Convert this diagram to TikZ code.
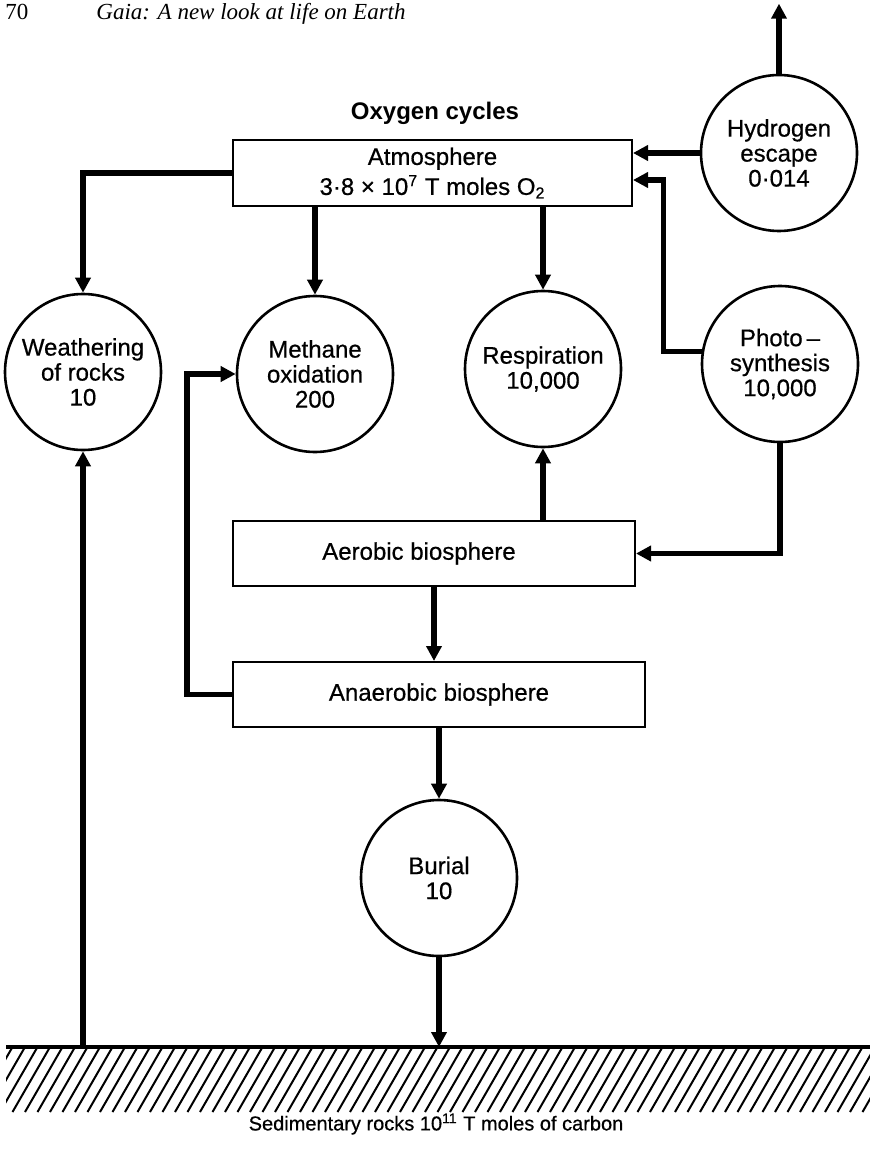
\documentclass[tikz,border=0pt]{standalone}
\usepackage{fontspec}
\newfontfamily\sansf{Liberation Sans}[FakeBold=0.6]
\newfontfamily\sansb{Liberation Sans}
\newfontfamily\serf{Liberation Serif}
\usetikzlibrary{arrows.meta,calc}
\begin{document}
\begin{tikzpicture}[x=0.5pt,y=-0.5pt,
  conn/.style={line width=2.75pt},
  arr/.style={conn,-{Triangle[length=7.5pt,width=7.5pt]}},
  circ/.style={circle,draw,line width=1.3pt,minimum size=78pt,inner sep=0pt,align=center,
    font=\sansf\fontsize{12}{12.5}\selectfont},
  box/.style={rectangle,draw,line width=1pt,inner sep=0pt,align=center,
    font=\sansf\fontsize{12}{15}\selectfont},
  hatchline/.style={line width=1pt},
  ttl/.style={font=\sansb\bfseries\fontsize{12}{14}\selectfont}
]
\useasboundingbox (0,0) rectangle (870,1150);

% header
\node[anchor=base west,inner sep=0pt,font=\serf\fontsize{11.5}{14}\selectfont] (pg) at (5,20) {70};
\node[anchor=base west,inner sep=0pt,font=\serf\itshape\fontsize{11.5}{14}\selectfont] (hd) at (96,20) {Gaia: A new look at life on Earth};

% title
\node[ttl] (title) at (435,113) {Oxygen cycles};

% boxes
\node[box,minimum width=199.5pt,minimum height=33pt] (atm) at (432.5,173)
  {Atmosphere\\3·8 × 10\textsuperscript{7} T moles O\textsubscript{2}};
\node[box,minimum width=201pt,minimum height=32.5pt] (aer) at (434,553.5)
  {Aerobic biosphere\hspace*{15pt}};
\node[box,minimum width=206pt,minimum height=32.5pt] (anaer) at (439,694.5)
  {Anaerobic biosphere};

% circles
\node[circ] (hydro) at (779,153) {Hydrogen\\escape\\0·014};
\node[circ] (weath) at (83,372) {Weathering\\of rocks\\10};
\node[circ] (meth) at (315,374) {Methane\\oxidation\\200};
\node[circ] (resp) at (543,369) {Respiration\\10,000};
\node[circ] (photo) at (780,364) {Photo\,–\\synthesis\\10,000};
\node[circ] (burial) at (439,878) {Burial\\10};

% ground
\coordinate (ground) at (0,1047);
\coordinate (groundR) at (870,1047);
\begin{scope}
  \clip (6,1049) rectangle (870,1112);
  \foreach \i in {-4,...,72} \draw[hatchline] (\i*12.5,1112) -- ++(37.5,-65);
\end{scope}
\draw[line width=2pt] (6,1047) -- (groundR);

% bottom label
\node[font=\sansf\fontsize{10}{12}\selectfont] (sed) at (436,1124)
  {Sedimentary rocks 10\textsuperscript{11} T moles of carbon};

% connectors
\coordinate (atmR2) at ($(atm.east)+(0,7)$);
\draw[arr] (atm.west) -| (weath.north);
\draw[arr] (atm.south -| meth.north) -- (meth.north);
\draw[arr] (atm.south -| resp.north) -- (resp.north);
\draw[arr] (hydro.west) -- (hydro.west -| atm.east);
\draw[arr] (hydro.north) -- ++(0,-70);
\draw[arr] (photo.171) -- ++(-38,0) |- (atmR2);
\draw[arr] (photo.south) |- (aer.east);
\draw[arr] (aer.north -| resp.south) -- (resp.south);
\draw[arr] (aer.south) -- (aer.south |- anaer.north);
\draw[arr] (anaer.west) -- ++(-45,0) |- (meth.west);
\draw[arr] (anaer.south -| burial.north) -- (burial.north);
\draw[arr] (burial.south) -- (burial.south |- ground);
\draw[arr] (weath.south |- ground) -- (weath.south);
\end{tikzpicture}
\end{document}
